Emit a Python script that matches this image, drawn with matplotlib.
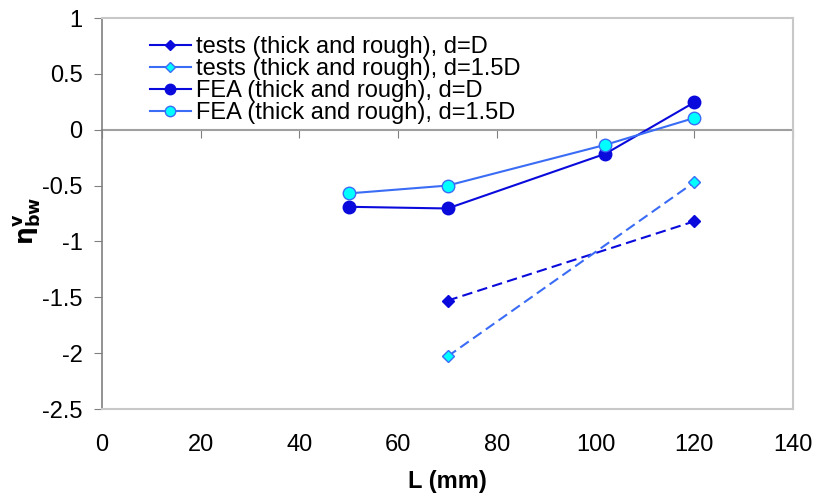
import matplotlib
matplotlib.use('Agg')
import matplotlib.pyplot as plt
from matplotlib.lines import Line2D

plt.rcParams['font.family'] = ['Liberation Sans', 'DejaVu Sans']

# Datos
L_tests = [70, 120]
tests_d1 = [-1.53, -0.82]
tests_d15 = [-2.03, -0.47]

L_fea = [50, 70, 102, 120]
fea_d1 = [-0.69, -0.705, -0.215, 0.245]
fea_d15 = [-0.57, -0.50, -0.135, 0.105]

etiquetas = ['tests (thick and rough), d=D',
             'tests (thick and rough), d=1.5D',
             'FEA (thick and rough), d=D',
             'FEA (thick and rough), d=1.5D']

azul = '#0a0adc'
azul_claro = '#3a6cf5'
cian = '#00ffff'

fig = plt.figure(figsize=(8.15, 4.96), dpi=100)
ax = fig.add_axes([0.1252, 0.1754, 0.8478, 0.7883])

ax.plot(L_tests, tests_d1, ls=(0, (5, 2.5)), color=azul, lw=1.5,
        marker='D', ms=6, mfc=azul, mec=azul)
ax.plot(L_tests, tests_d15, ls=(0, (5, 2.5)), color=azul_claro, lw=1.5,
        marker='D', ms=6, mfc=cian, mec=azul_claro)
ax.plot(L_fea, fea_d1, color=azul, lw=1.5,
        marker='o', ms=9, mfc=azul, mec=azul)
ax.plot(L_fea, fea_d15, color=azul_claro, lw=1.5,
        marker='o', ms=9, mfc=cian, mec=azul_claro)

ax.set_xlim(0, 140)
ax.set_ylim(-2.5, 1)
ax.set_xticks(range(0, 141, 20))
ax.set_yticks([1, 0.5, 0, -0.5, -1, -1.5, -2, -2.5])
ax.set_yticklabels(['1', '0.5', '0', '-0.5', '-1', '-1.5', '-2', '-2.5'])

# borde del área de trazado
for lado in ['top', 'right', 'bottom']:
    ax.spines[lado].set_color('#c8c8c8')
    ax.spines[lado].set_linewidth(1.5)
ax.spines['left'].set_color('#808080')
ax.spines['left'].set_linewidth(1.2)
ax.tick_params(axis='x', length=0, labelsize=17, pad=18)
ax.tick_params(axis='y', length=6, color='#808080', labelsize=17, pad=8)

# eje x cruzando en y=0
eje0 = ax.secondary_xaxis(2.5 / 3.5)
eje0.set_alignment('bottom')
eje0.set_xticks(range(0, 141, 20))
eje0.tick_params(axis='x', length=6, color='#808080', labelbottom=False, labeltop=False)
eje0.spines['bottom'].set_color('#a0a0a0')
eje0.spines['bottom'].set_linewidth(1.5)

ax.set_xlabel('L (mm)', fontsize=17, fontweight='bold', labelpad=10)
ax.set_ylabel(r'$\mathbf{\eta^{v}_{bw}}$', fontsize=18)
ax.yaxis.set_label_coords(-0.085, 0.48)

manijas = [
    Line2D([], [], color=azul, lw=1.5, marker='D', ms=5, mfc=azul, mec=azul),
    Line2D([], [], color=azul_claro, lw=1.5, marker='D', ms=5, mfc=cian, mec=azul_claro),
    Line2D([], [], color=azul, lw=1.5, marker='o', ms=7.5, mfc=azul, mec=azul),
    Line2D([], [], color=azul_claro, lw=1.5, marker='o', ms=7.5, mfc=cian, mec=azul_claro),
]
ax.legend(manijas, etiquetas, loc='upper left', bbox_to_anchor=(0.045, 0.995),
          frameon=False, fontsize=17, handlelength=1.75, handletextpad=0.2,
          labelspacing=0.0, borderpad=0.2)

fig.savefig('out.png', dpi=100)
